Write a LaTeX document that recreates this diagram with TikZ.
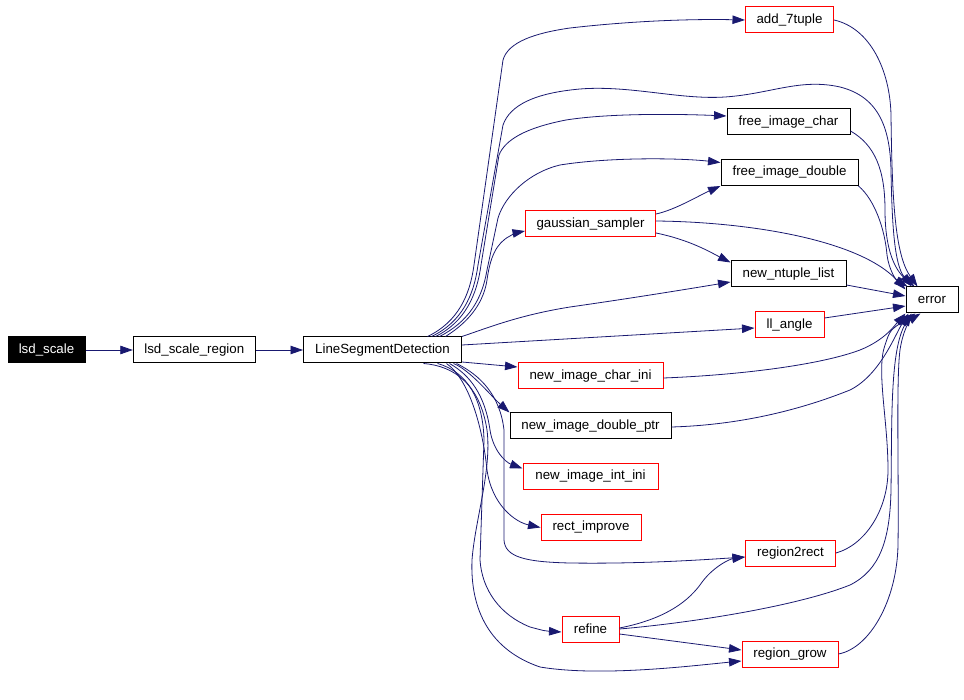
\documentclass[tikz,border=0pt]{standalone}
\usepackage{fontspec}
\setmainfont{Liberation Sans}
\usetikzlibrary{arrows.meta,calc}
\definecolor{edgeblue}{RGB}{25,25,112}
\definecolor{boxred}{RGB}{255,0,0}
\begin{document}
\begin{tikzpicture}[x=1pt,y=-1pt,
  box/.style={draw, line width=1pt, minimum height=26pt, inner sep=0pt,
    font=\fontsize{13.3}{16}\selectfont, anchor=center, fill=white},
  fnbox/.style={box, draw=black},
  redbox/.style={box, draw=boxred},
  rootbox/.style={box, fill=black, text=white, draw=black},
  edge/.style={draw=edgeblue, line width=0.8pt, -{Triangle[length=12.5pt,width=8.5pt]}}
]
\useasboundingbox (0,0) rectangle (964,700);

% nodes
\node[rootbox, minimum width=77pt]  (ls)   at (46.5,350)  {lsd\_scale};
\node[fnbox,  minimum width=122pt] (lsr)  at (194.3,350) {lsd\_scale\_region};
\node[fnbox,  minimum width=158pt] (lsd)  at (382.5,350) {LineSegmentDetection};
\node[redbox, minimum width=88pt]  (add)  at (789.5,20)  {add\_7tuple};
\node[fnbox,  minimum width=123pt] (fic)  at (788.5,122) {free\_image\_char};
\node[fnbox,  minimum width=137pt] (fid)  at (789.5,172.5) {free\_image\_double};
\node[redbox, minimum width=130pt] (gs)   at (590.5,224)   {gaussian\_sampler};
\node[fnbox,  minimum width=115pt] (nnl)  at (788.5,274) {new\_ntuple\_list};
\node[fnbox,  minimum width=52pt]  (err)  at (932,300)   {error};
\node[redbox, minimum width=69pt]  (ll)   at (789.5,325) {ll\_angle};
\node[redbox, minimum width=145pt] (nici) at (590.5,376) {new\_image\_char\_ini};
\node[fnbox,  minimum width=161pt] (nidp) at (590.5,426) {new\_image\_double\_ptr};
\node[redbox, minimum width=135pt] (niii) at (590.5,476.5) {new\_image\_int\_ini};
\node[redbox, minimum width=100pt] (ri)   at (591,527.5) {rect\_improve};
\node[redbox, minimum width=90pt]  (r2r)  at (790.5,553) {region2rect};
\node[redbox, minimum width=57pt]  (ref)  at (590.5,629) {refine};
\node[redbox, minimum width=96pt]  (rg)   at (790,654)   {region\_grow};

% edges
\draw[edge] (ls) -- (lsr);
\draw[edge] (lsr) -- (lsd);

% LSD upward fan
\draw[edge] ([xshift=124.5pt]lsd.north west) .. controls (458,322) and (470,295) .. (474,265)
  -- (503,60) .. controls (508,42) and (535,33) .. (570,28)
  .. controls (640,20) and (700,19) .. (add.west);
\draw[edge] ([xshift=128.5pt]lsd.north west) .. controls (462,322) and (474,295) .. (478,265)
  -- (503,125) .. controls (510,105) and (535,93) .. (580,89)
  .. controls (630,85) and (680,100) .. (725,97)
  .. controls (770,94) and (800,78) .. (840,87)
  .. controls (880,97) and (890,130) .. (891,170)
  .. controls (892,230) and (895,265) .. ([xshift=6pt]err.north west);
\draw[edge] ([xshift=132.5pt]lsd.north west) .. controls (465,322) and (477,295) .. (481,265)
  -- (499,155) .. controls (505,140) and (525,128) .. (566,120)
  .. controls (610,113) and (680,114) .. ([yshift=6pt]fic.west);
\draw[edge] ([xshift=136.5pt]lsd.north west) .. controls (468,322) and (482,300) .. (487,270)
  -- (498,218) .. controls (505,195) and (530,172) .. (560,165)
  .. controls (610,157) and (680,158) .. ([yshift=10pt]fid.west);
\draw[edge] ([xshift=142.5pt]lsd.north west) .. controls (472,320) and (484,300) .. (487,280)
  .. controls (490,258) and (496,243) .. (510,236)
  .. controls (515,233) .. ([yshift=-7pt]gs.west);

% gaussian_sampler
\draw[edge] ([yshift=10pt]gs.east) .. controls (675,210) and (700,195) .. (fid.south west);
\draw[edge] ([yshift=-9pt]gs.east) .. controls (690,240) and (710,252) .. ([yshift=-2pt]nnl.north west);
\draw[edge] ([yshift=3pt]gs.east) .. controls (750,222) and (860,240) .. ([yshift=-3pt]err.north west);

% LSD rightward
\draw[edge] (lsd.north east) .. controls (490,327) and (520,315) .. (570,307)
  .. controls (640,297) and (700,287) .. ([yshift=-8pt]nnl.west);
\draw[edge] ([yshift=5pt]lsd.east) -- ([yshift=-3pt]ll.west);
\draw[edge] ([yshift=-12pt]lsd.east) -- ([yshift=9pt]nici.west);

% LSD downward fan
\draw[edge] ([xshift=150.5pt]lsd.south west) .. controls (470,370) and (490,395) .. (nidp.north west);
\draw[edge] ([xshift=146.5pt]lsd.south west) .. controls (470,375) and (485,395) .. (490,430)
  .. controls (493,450) and (505,462) .. ([yshift=8pt]niii.west);
\draw[edge] ([xshift=143.5pt]lsd.south west) .. controls (470,380) and (483,430) .. (487,470)
  .. controls (492,505) and (515,522) .. (ri.west);
\draw[edge] ([xshift=153.5pt]lsd.south west) .. controls (480,375) and (500,395) .. (504,430)
  -- (504,540) .. controls (505,557) and (525,562) .. (570,563)
  .. controls (640,564) and (700,560) .. ([yshift=-4pt]r2r.west);
\draw[edge] ([xshift=134.5pt]lsd.south west) .. controls (468,372) and (483,400) .. (484,440)
  -- (480,560) .. controls (482,590) and (500,615) .. (530,627)
  .. controls (545,631) .. ([yshift=-3pt]ref.west);
\draw[edge] ([xshift=120.5pt]lsd.south west) .. controls (455,366) and (480,385) .. (487,430)
  .. controls (492,470) and (475,520) .. (472,560)
  .. controls (470,610) and (490,650) .. (540,667)
  .. controls (600,677) and (690,666) .. ([yshift=-7pt]rg.west);

% refine
\draw[edge] ([yshift=1pt]ref.east) .. controls (660,620) and (685,605) .. (700,585)
  .. controls (712,567) and (730,559) .. ([yshift=-4pt]r2r.west);
\draw[edge] ([yshift=-5pt]ref.east) -- ([yshift=4pt]rg.west);
\draw[edge] (ref.east) .. controls (700,622) and (800,605) .. (850,585)
  .. controls (880,570) and (890,540) .. (891,490)
  .. controls (892,420) and (890,350) .. ([xshift=6pt]err.south west);

% into error
\draw[edge] (add.east) .. controls (870,28) and (890,70) .. (891,115)
  .. controls (892,200) and (895,255) .. ([xshift=12pt]err.north west);
\draw[edge] ([yshift=-9pt]fic.east) .. controls (875,145) and (885,170) .. (885,210)
  .. controls (885,250) and (895,270) .. ([xshift=9pt]err.north west);
\draw[edge] (fid.south east) .. controls (875,200) and (885,230) .. (887,255)
  .. controls (889,270) and (896,280) .. ([xshift=2pt]err.north west);
\draw[edge] ([yshift=-11pt]nnl.east) -- ([yshift=4pt]err.west);
\draw[edge] ([yshift=7pt]ll.east) -- ([yshift=-6pt]err.west);
\draw[edge] ([yshift=-2pt]nici.east) .. controls (740,375) and (820,365) .. (860,350)
  .. controls (885,340) and (895,325) .. ([xshift=0pt]err.south west);
\draw[edge] ([yshift=-1pt]nidp.east) .. controls (740,425) and (800,410) .. (850,390)
  .. controls (880,375) and (895,335) .. ([xshift=3pt]err.south west);
\draw[edge] (r2r.east) .. controls (865,545) and (888,510) .. (888,470)
  .. controls (888,420) and (876,370) .. (885,345)
  .. controls (890,330) .. ([xshift=10pt]err.south west);
\draw[edge] (rg.east) .. controls (870,648) and (897,600) .. (898,545)
  .. controls (899,480) and (896,380) .. (900,350)
  .. controls (903,330) and (910,320) .. ([xshift=15pt]err.south west);
\end{tikzpicture}
\end{document}
